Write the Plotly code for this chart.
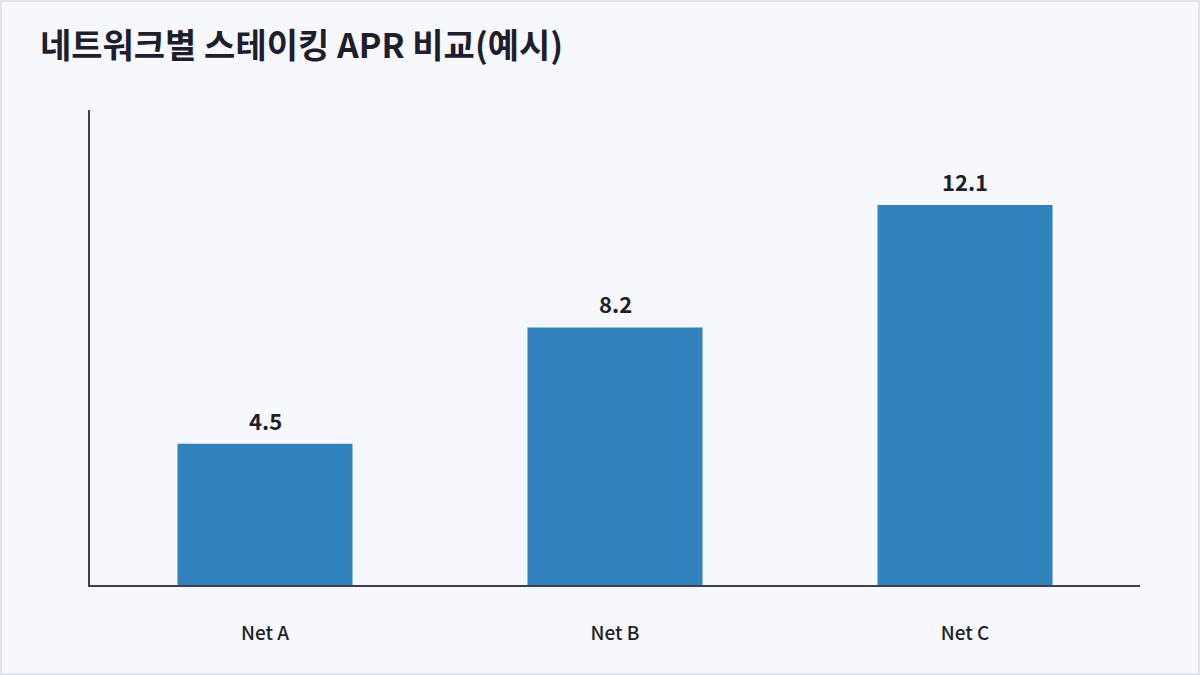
import plotly.graph_objects as go

# data
networks = ["Net A", "Net B", "Net C"]
apr_values = [4.5, 8.2, 12.1]

FONT = "Noto Sans CJK KR"
BAR_COLOR = "#3182bd"
INK = "#1e1e2c"

W, H = 1200, 675
ML, MR, MT, MB = 90, 60, 110, 90

fig = go.Figure()
fig.add_trace(go.Bar(
    x=networks,
    y=apr_values,
    marker=dict(color=BAR_COLOR, line=dict(width=0)),
    hoverinfo="x+y",
))

# value labels above bars
for name, val in zip(networks, apr_values):
    fig.add_annotation(
        x=name, y=val, text=f"<b>{val}</b>",
        showarrow=False, yanchor="bottom", yshift=6,
        font=dict(family=FONT, size=22, color=INK),
    )

# light frame around the whole figure
pw, ph = W - ML - MR, H - MT - MB
fig.add_shape(
    type="rect", xref="paper", yref="paper",
    x0=-(ML - 1) / pw, x1=1 + (MR - 1) / pw,
    y0=-(MB - 1) / ph, y1=1 + (MT - 1) / ph,
    line=dict(color="#e1e4ec", width=2), layer="below",
)

fig.update_layout(
    width=W, height=H,
    margin=dict(l=ML, r=MR, t=MT, b=MB),
    paper_bgcolor="#f6f8fc",
    plot_bgcolor="#f6f8fc",
    bargap=0.5,
    showlegend=False,
    title=dict(
        text="<b>네트워크별 스테이킹 APR 비교(예시)</b>",
        x=40 / W, xanchor="left", y=1 - 46 / H, yanchor="middle",
        font=dict(family=FONT, size=34, color=INK),
    ),
    font=dict(family=FONT, color=INK),
)
fig.update_xaxes(
    showline=True, linecolor="#3f3f56", linewidth=2,
    ticks="", ticklabelstandoff=30,
    tickfont=dict(family=FONT, size=19, color=INK, weight=500),
    showgrid=False,
)
fig.update_yaxes(
    range=[0, 15.125],
    showline=True, linecolor="#3f3f56", linewidth=2,
    showticklabels=False, ticks="", showgrid=False, zeroline=False,
)

fig.write_html(
    "out.html",
    config={"displayModeBar": False},
    post_script="document.body.style.margin='0';",
)
